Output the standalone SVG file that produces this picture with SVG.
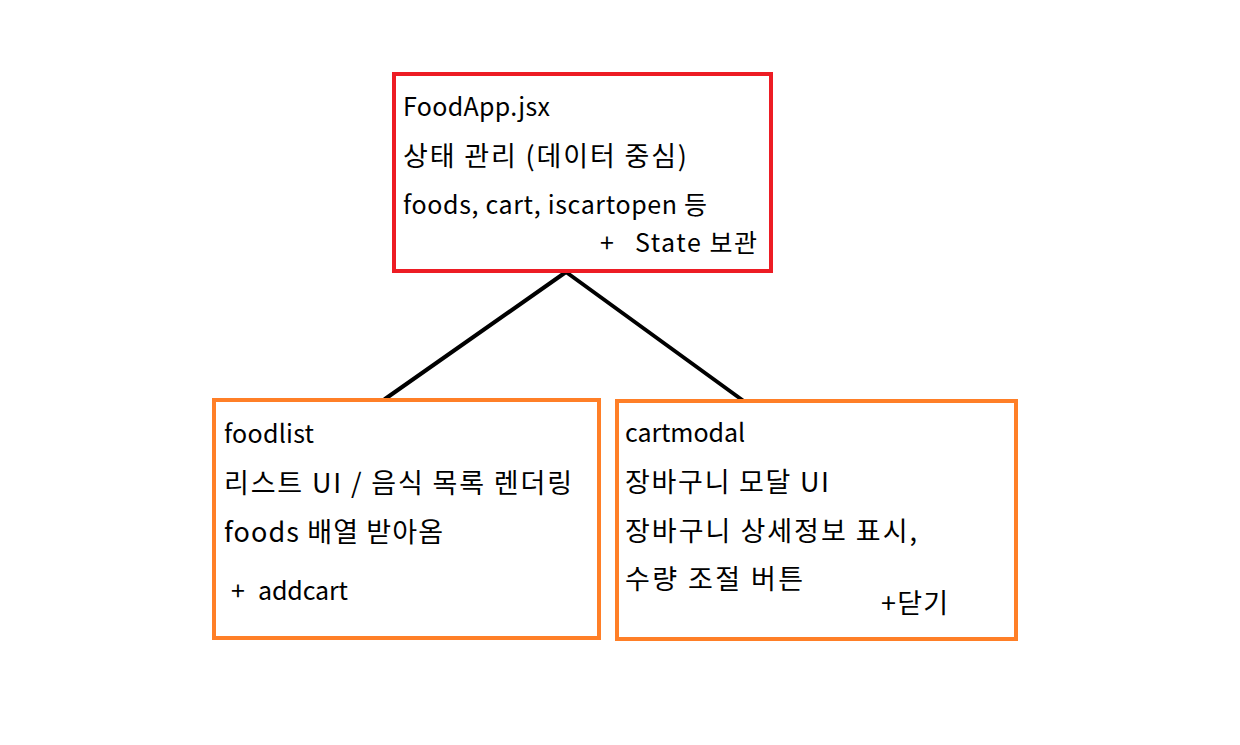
<svg xmlns="http://www.w3.org/2000/svg" width="1240" height="745" viewBox="0 0 1240 745">
<style>
.t{font-family:"Noto Sans CJK KR","Noto Sans",sans-serif;font-size:25px;fill:#000}
.k{font-size:27px}
.box{fill:#fff;stroke-width:4}
</style>
<rect width="1240" height="745" fill="#fff"/>
<g id="connectors" stroke="#000" stroke-width="4" fill="none" stroke-linecap="round">
<line x1="566" y1="272" x2="385" y2="399"/>
<line x1="566" y1="272" x2="745" y2="402"/>
</g>
<g id="foodapp">
<rect class="box" x="394" y="74" width="377" height="197" stroke="#ED1C24"/>
<text class="t" x="403" y="116" textLength="147" lengthAdjust="spacing">FoodApp.jsx</text>
<text class="t k" x="403" y="166" textLength="284" lengthAdjust="spacing">상태 관리 (데이터 중심)</text>
<text class="t" x="403" y="214" textLength="304" lengthAdjust="spacing">foods, cart, iscartopen 등</text>
<text class="t" x="600" y="252">+</text>
<text class="t" x="635" y="252" textLength="122" lengthAdjust="spacing">State 보관</text>
</g>
<g id="foodlist">
<rect class="box" x="214" y="400" width="385" height="238" stroke="#FF7F27"/>
<text class="t" x="224" y="443" textLength="90" lengthAdjust="spacing">foodlist</text>
<text class="t k" x="224" y="493" textLength="348" lengthAdjust="spacing">리스트 UI / 음식 목록 렌더링</text>
<text class="t k" x="224" y="542" textLength="219" lengthAdjust="spacing">foods 배열 받아옴</text>
<text class="t" x="231" y="600">+</text>
<text class="t" x="258" y="600" textLength="90" lengthAdjust="spacing">addcart</text>
</g>
<g id="cartmodal">
<rect class="box" x="617" y="401" width="399" height="238" stroke="#FF7F27"/>
<text class="t" x="625" y="442" textLength="120" lengthAdjust="spacing">cartmodal</text>
<text class="t k" x="625" y="492" textLength="204" lengthAdjust="spacing">장바구니 모달 UI</text>
<text class="t k" x="625" y="541" textLength="292" lengthAdjust="spacing">장바구니 상세정보 표시,</text>
<text class="t k" x="625" y="589" textLength="178" lengthAdjust="spacing">수량 조절 버튼</text>
<text class="t k" x="881" y="613" textLength="67" lengthAdjust="spacing">+닫기</text>
</g>
</svg>
